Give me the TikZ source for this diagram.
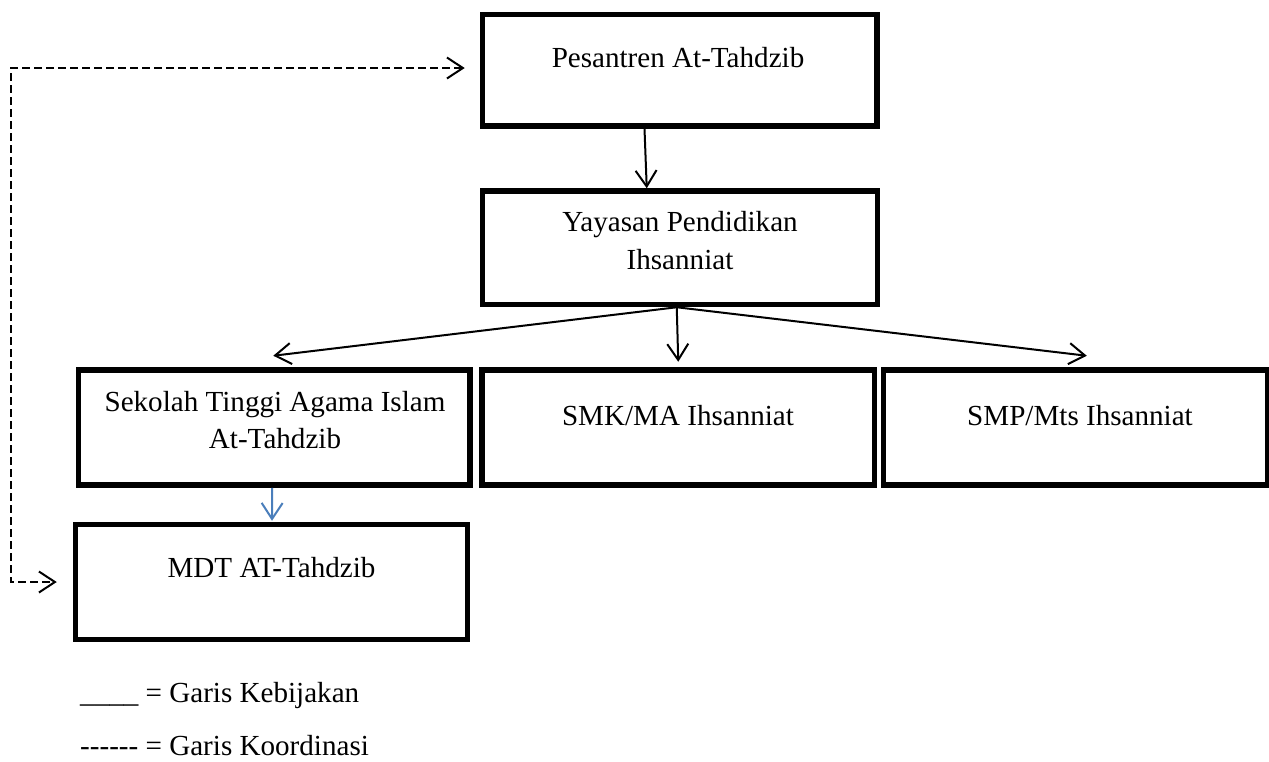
\documentclass[tikz,border=0pt]{standalone}
\usepackage{fontspec}
\setmainfont{Liberation Serif}
\usetikzlibrary{arrows.meta,calc}
\definecolor{wordblue}{HTML}{4A7EBB}
\begin{document}
\begin{tikzpicture}[x=1pt,y=-1pt,
  box/.style={draw=black,line width=5.5pt,inner sep=0pt,outer sep=2.75pt,rectangle},
  txt/.style={inner sep=0pt,anchor=base,font=\fontsize{29.1}{34}\selectfont},
  pol/.style={draw=black,line width=2pt,-{Straight Barb[length=16pt,width=21pt]}},
  blueline/.style={draw=wordblue,line width=2pt,-{Straight Barb[length=16pt,width=21pt]}},
  coordline/.style={draw=black,line width=2pt,dash pattern=on 8pt off 4pt,
     {Straight Barb[length=16pt,width=21pt]}-{Straight Barb[length=16pt,width=21pt]}}]
\useasboundingbox (0,0) rectangle (1269,761);
% boxes
\node[box,minimum width=394.5pt,minimum height=111.5pt] (p) at (679.75,70.25) {};
\node[box,minimum width=395pt,minimum height=113.5pt] (y) at (679.75,247.75) {};
\node[box,minimum width=391.5pt,minimum height=115pt] (s) at (274.25,427.5) {};
\node[box,minimum width=392.5pt,minimum height=115pt] (m) at (678.25,427.5) {};
\node[box,minimum width=384.5pt,minimum height=115pt] (t) at (1075.75,427.5) {};
\node[box,minimum width=392pt,minimum height=115pt] (d) at (271.5,582) {};
% texts
\node[txt] (pt) at (678,67) {Pesantren At-Tahdzib};
\node[txt] (yt1) at (680,231) {Yayasan Pendidikan};
\node[txt] (yt2) at (680,269) {Ihsanniat};
\node[txt] (st1) at (275,411) {Sekolah Tinggi Agama Islam};
\node[txt] (st2) at (275,448) {At-Tahdzib};
\node[txt] (mt) at (678,425) {SMK/MA Ihsanniat};
\node[txt] (tt) at (1080,425) {SMP/Mts Ihsanniat};
\node[txt] (dt) at (271.5,577) {MDT AT-Tahdzib};
\node[txt,anchor=base west] (l1) at (80,702) {\_\_\_\_ = Garis Kebijakan};
\node[txt,anchor=base west] (l2) at (80,755) {-{}-{}-{}-{}-{}- = Garis Koordinasi};
% connectors
\draw[pol] ($(p.south)+(-35.25,0)$) -- ($(y.north)+(-33,0)$);
\coordinate (ys) at ($(y.south)+(-3,0)$);
\draw[pol] (ys) -- ($(s.north)+(-1,-11.5)$);
\draw[pol] (ys) -- ($(m.north)+(0,-5.5)$);
\draw[pol] (ys) -- ($(t.north)+(11,-11.5)$);
\draw[blueline] ($(s.south)+(-2,0)$) -- ($(d.north)+(0.5,-1)$);
\coordinate (c1) at (11,68);
\coordinate (c2) at (11,582);
\draw[coordline] ($(p.west)+(-15,-2.25)$) -- (c1) -- (c2) -- ($(d.west)+(-16,0)$);
\end{tikzpicture}
\end{document}
